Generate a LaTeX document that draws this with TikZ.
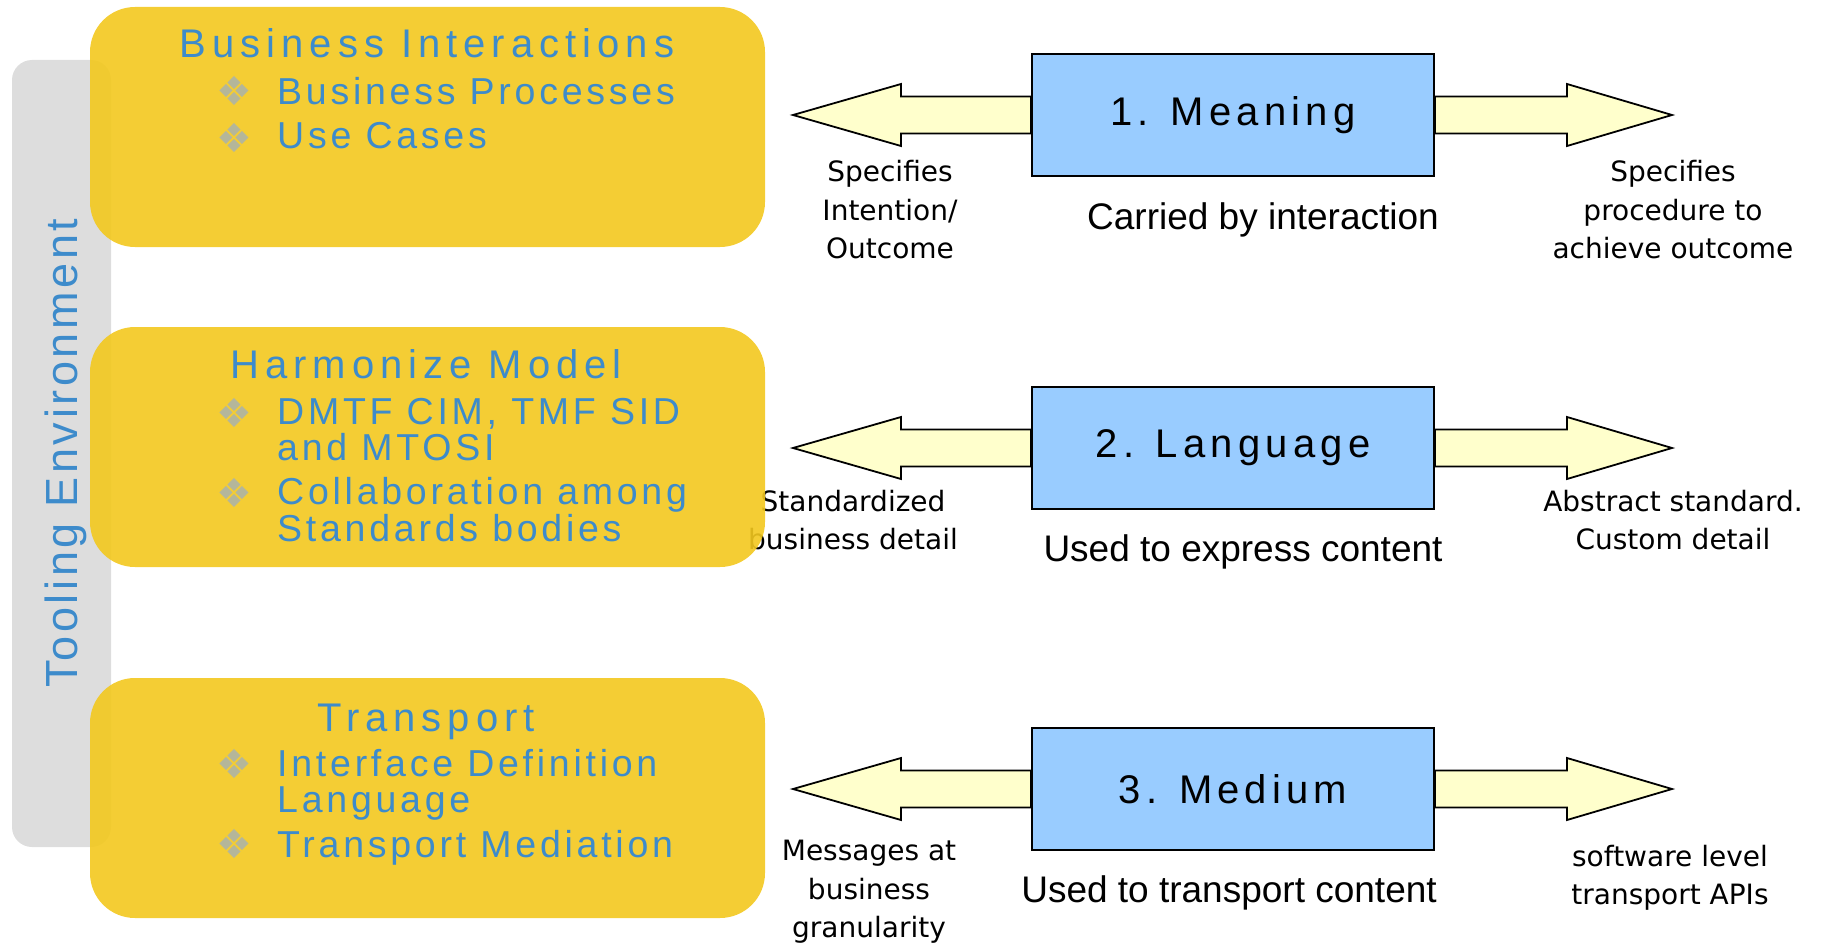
\documentclass[tikz,border=0pt]{standalone}
\usepackage{fontspec}
\setmainfont{Liberation Sans}
\newfontfamily\handfont{DejaVu Sans}
\newfontfamily\symfont{DejaVu Sans}
\usetikzlibrary{calc}

\definecolor{toolgray}{HTML}{DDDDDD}
\definecolor{padyellow}{HTML}{F3C81E}
\definecolor{headblue}{HTML}{3D8BCB}
\definecolor{boxblue}{HTML}{99CCFF}
\definecolor{arrowcream}{HTML}{FFFFCC}
\definecolor{bulletgray}{HTML}{B4B69A}

\tikzset{
  pad/.style={fill=padyellow, fill opacity=0.9, rounded corners=45pt, inner sep=0,
    minimum width=675pt, minimum height=240pt},
  padtitle/.style={headblue, anchor=base, inner sep=0,
    font=\fontsize{40}{48}\selectfont\addfontfeatures{LetterSpace=15}},
  paditem/.style={headblue, anchor=base west, inner sep=0,
    font=\fontsize{37.5}{45}\selectfont\addfontfeatures{LetterSpace=10}},
  padbullet/.style={bulletgray, inner sep=0, font=\symfont\fontsize{40}{40}\selectfont},
  layer/.style={draw=black, line width=2pt, fill=boxblue, inner sep=0,
    minimum width=402pt, minimum height=122pt,
    font=\fontsize{40}{48}\selectfont\addfontfeatures{LetterSpace=13}},
  caption/.style={inner sep=0, font=\fontsize{37}{44}\selectfont},
  note/.style={align=center, inner sep=0, font=\handfont\fontsize{28}{38.5}\selectfont},
  sidearr/.style={draw=black, line width=1.8pt, fill=arrowcream, line join=miter},
}

% block arrow from a box side to a tip, #3 = head length (signed)
\newcommand{\sidearrow}[3]{%
  \draw[sidearr] let \p1=(#1), \p2=(#2) in
    (\x1,{\y2+18.5pt}) -- ({\x2+(#3)*1pt},{\y2+18.5pt}) -- ({\x2+(#3)*1pt},{\y2+31pt})
    -- (\p2) -- ({\x2+(#3)*1pt},{\y2-31pt}) -- ({\x2+(#3)*1pt},{\y2-18.5pt})
    -- (\x1,{\y2-18.5pt}) -- cycle;}

\begin{document}
\begin{tikzpicture}[x=1pt,y=-1pt]
  \useasboundingbox (0,0) rectangle (1833,947);

  % tooling band
  \node[fill=toolgray, rounded corners=20pt, minimum width=99pt, minimum height=787pt,
    inner sep=0] (tool) at (61.5,453.5) {};
  \node[rotate=90, anchor=base, headblue, inner sep=0,
    font=\fontsize{45}{54}\selectfont\addfontfeatures{LetterSpace=8}]
    (tooltext) at (77,453) {Tooling Environment};

  % side notes
  \node[note] (nl1) at (890,210) {Specifies\\Intention/\\Outcome};
  \node[note] (nr1) at (1673,210) {Specifies\\procedure to\\achieve outcome};
  \node[note] (nl2) at (853,520) {Standardized\\business detail};
  \node[note] (nr2) at (1673,520) {Abstract standard.\\Custom detail};
  \node[note] (nl3) at (869,892) {Messages at\\business\\granularity};
  \node[note] (nr3) at (1670,878) {software level\\transport APIs};

  % yellow pads
  \node[pad] (pad1) at (427.5,127) {};
  \node[pad] (pad2) at (427.5,447) {};
  \node[pad] (pad3) at (427.5,798) {};

  \node[padtitle] (t1) at (427,58) {Business Interactions};
  \node[padbullet] (b11) at (234,91) {❖};
  \node[paditem] (i11) at (277,105) {Business Processes};
  \node[padbullet] (b12) at (234,138) {❖};
  \node[paditem] (i12) at (277,149) {Use Cases};

  \node[padtitle] (t2) at (426,378) {Harmonize Model};
  \node[padbullet] (b21) at (234,413) {❖};
  \node[paditem] (i21) at (277,424) {DMTF CIM, TMF SID};
  \node[paditem] (i21b) at (277,460) {and MTOSI};
  \node[padbullet] (b22) at (234,493) {❖};
  \node[paditem] (i22) at (277,504) {Collaboration among};
  \node[paditem] (i22b) at (277,541) {Standards bodies};

  \node[padtitle] (t3) at (426,731) {Transport};
  \node[padbullet] (b31) at (234,764) {❖};
  \node[paditem] (i31) at (277,776) {Interface Definition};
  \node[paditem] (i31b) at (277,812) {Language};
  \node[padbullet] (b32) at (234,844) {❖};
  \node[paditem] (i32) at (277,857) {Transport Mediation};

  % layers
  \node[layer] (m1) at (1233,115) {1. Meaning};
  \node[layer] (m2) at (1233,448) {2. Language};
  \node[layer] (m3) at (1233,789) {3. Medium};

  \node[caption] (c1) at (1263,220) {Carried by interaction};
  \node[caption] (c2) at (1243,552) {Used to express content};
  \node[caption] (c3) at (1229,893) {Used to transport content};

  \coordinate (tl1) at (793,115);
  \coordinate (tr1) at (1672,115);
  \coordinate (tl2) at (793,448);
  \coordinate (tr2) at (1672,448);
  \coordinate (tl3) at (793,789);
  \coordinate (tr3) at (1672,789);

  \sidearrow{m1.west}{tl1}{108}
  \sidearrow{m1.east}{tr1}{-105}
  \sidearrow{m2.west}{tl2}{108}
  \sidearrow{m2.east}{tr2}{-105}
  \sidearrow{m3.west}{tl3}{108}
  \sidearrow{m3.east}{tr3}{-105}
\end{tikzpicture}
\end{document}
